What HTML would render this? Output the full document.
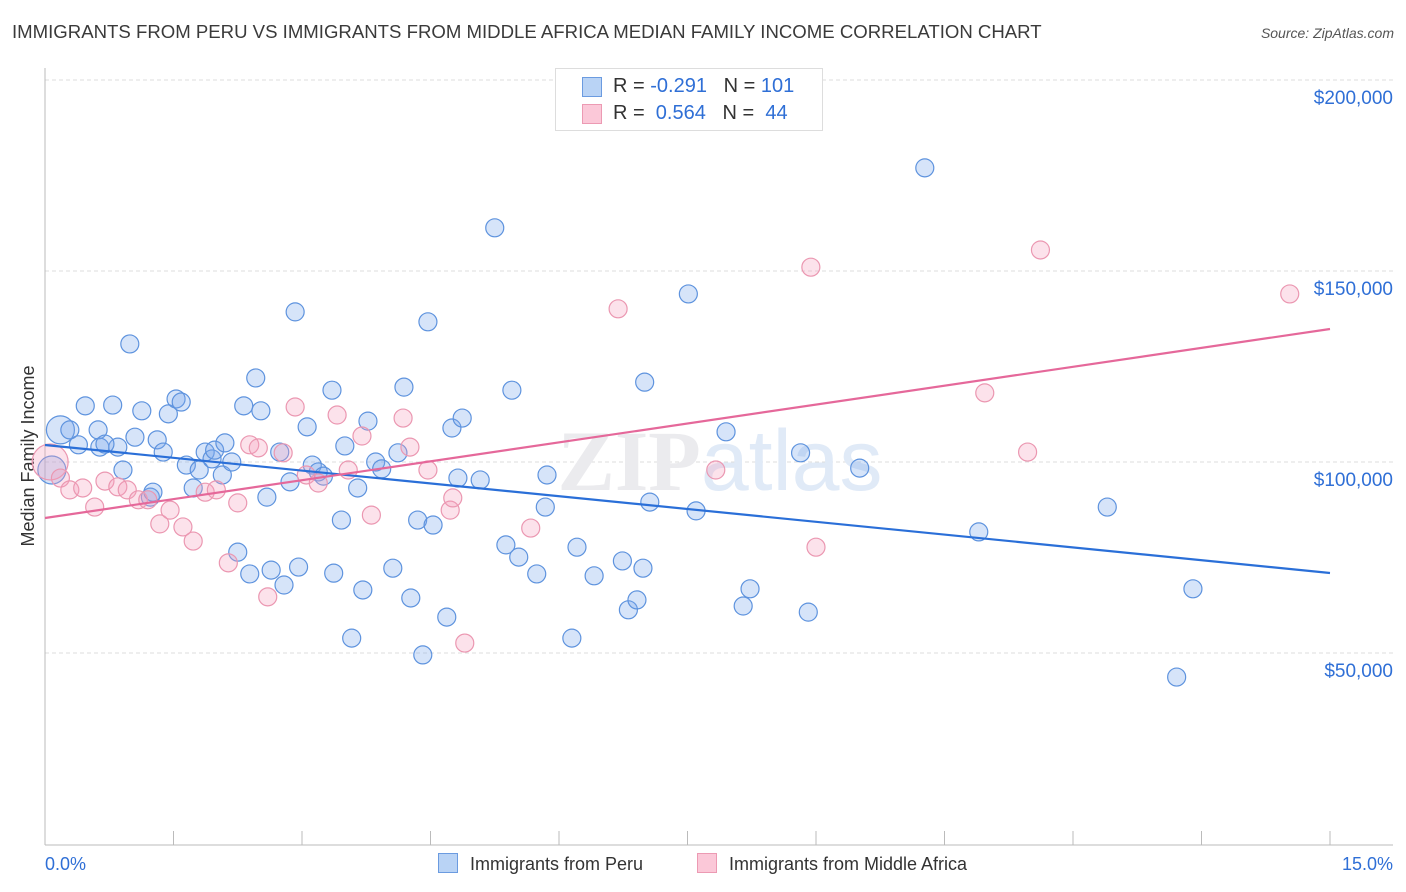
<!DOCTYPE html>
<html><head><meta charset="utf-8"><style>
body{margin:0;background:#fff;font-family:"Liberation Sans",sans-serif;}
#wrap{position:relative;width:1406px;height:892px;overflow:hidden;}
.t{position:absolute;white-space:nowrap;}
</style></head><body>
<div id="wrap">
<div class="t" style="left:12px;top:21px;font-size:18.6px;color:#3a3a3a;">IMMIGRANTS FROM PERU VS IMMIGRANTS FROM MIDDLE AFRICA MEDIAN FAMILY INCOME CORRELATION CHART</div>
<div class="t" style="right:12px;top:25px;font-size:14px;color:#555;font-style:italic;">Source: ZipAtlas.com</div>
<svg id="svg" width="1406" height="892" style="position:absolute;left:0;top:0"></svg>
<div style="position:absolute;left:555px;top:68px;width:266px;height:61px;border:1px solid #ddd;background:#fff;font-size:20px;">
 <div style="position:absolute;left:26px;top:8px;width:18px;height:18px;background:#b9d3f5;border:1px solid #6b9be0;"></div>
 <div class="t" style="left:57px;top:6px;color:#333;">R = <span style="color:#2f6fd6">-0.291</span>&nbsp;&nbsp;&nbsp;N = <span style="color:#2f6fd6">101</span></div>
 <div style="position:absolute;left:26px;top:35px;width:18px;height:18px;background:#fbc8d8;border:1px solid #ec9ab3;"></div>
 <div class="t" style="left:57px;top:33px;color:#333;">R = &nbsp;<span style="color:#2f6fd6">0.564</span>&nbsp;&nbsp;&nbsp;N = &nbsp;<span style="color:#2f6fd6">44</span></div>
</div>
<div class="t" style="left:438px;top:853px;font-size:18px;color:#333;"><span style="display:inline-block;width:18px;height:18px;background:#b9d3f5;border:1px solid #6b9be0;vertical-align:-3px;margin-right:12px"></span>Immigrants from Peru</div>
<div class="t" style="left:697px;top:853px;font-size:18px;color:#333;"><span style="display:inline-block;width:18px;height:18px;background:#fbc8d8;border:1px solid #ec9ab3;vertical-align:-3px;margin-right:12px"></span>Immigrants from Middle Africa</div>
</div>
<script>
const yTicks=[50000,100000,150000,200000];
const yTickLabels=["$50,000","$100,000","$150,000","$200,000"];
const xTickLabels=["0.0%","15.0%"];
const peruX=[0.18,0.29,0.39,0.62,0.47,0.79,0.85,0.64,0.70,0.99,0.91,1.05,1.13,1.31,1.38,1.44,1.53,1.59,1.65,1.73,1.80,1.87,1.95,1.98,2.07,2.10,2.18,1.23,1.26,2.25,2.32,2.39,2.46,2.52,2.59,2.64,2.74,2.79,2.86,2.92,2.96,3.06,3.12,3.19,3.25,3.37,3.35,3.46,3.50,3.58,3.65,3.71,3.77,3.86,3.93,4.06,4.12,4.19,4.27,4.35,4.41,4.47,4.53,4.69,4.75,4.82,4.87,5.08,5.25,5.38,5.45,5.53,5.74,5.84,5.86,6.15,6.21,6.41,6.74,6.81,6.91,6.98,7.00,7.06,7.51,7.60,7.95,8.15,8.23,8.82,8.91,9.51,10.27,10.90,12.40,13.21,13.40,0.08];
const peruY=[108.4,108.4,104.5,108.4,114.7,114.9,103.9,103.9,104.7,130.9,97.9,106.5,113.4,105.8,102.6,112.6,116.5,115.7,99.2,93.2,97.9,102.6,100.8,103.1,96.6,105.0,100.0,90.8,92.1,76.4,114.7,70.7,122.0,113.4,90.8,71.7,102.6,67.8,94.8,139.3,72.5,109.2,99.2,97.4,96.3,70.9,118.8,84.8,104.2,53.9,93.2,66.5,110.7,100.0,98.2,72.2,102.4,119.6,64.4,84.8,49.5,136.7,83.5,59.4,108.9,95.8,111.5,95.3,161.3,78.3,118.8,75.1,70.7,88.2,96.6,53.9,77.7,70.2,74.1,61.3,63.9,72.2,120.9,89.5,144.0,87.2,107.9,62.3,66.8,102.4,60.7,98.4,177.0,81.7,88.2,43.7,66.8,97.9];
const afrX=[0.06,0.18,0.29,0.44,0.58,0.70,0.85,0.96,1.09,1.20,1.34,1.46,1.61,1.73,1.87,2.00,2.14,2.25,2.39,2.49,2.60,2.78,2.92,3.05,3.19,3.41,3.54,3.70,3.81,4.18,4.26,4.47,4.73,4.76,4.90,5.67,6.69,7.83,8.94,9.00,10.97,11.47,11.62,14.53];
const afrY=[100.0,95.8,92.7,93.2,88.2,95.0,93.5,92.7,90.1,90.1,83.8,87.4,83.0,79.3,92.1,92.7,73.6,89.3,104.5,103.7,64.7,102.4,114.4,96.6,94.5,112.3,97.9,106.8,86.1,111.5,103.9,97.9,87.4,90.6,52.6,82.7,140.1,97.9,151.0,77.7,118.1,102.6,155.5,144.0];
const peruTrend=[104.45,70.94];
const afrTrend=[85.34,134.82];
const xs=v=>45+v/15*1285;
const ys=v=>462-(v-100)*191/50;
const svg=document.getElementById('svg');const NS='http://www.w3.org/2000/svg';
function mk(tag,a){const e=document.createElementNS(NS,tag);for(const k in a)e.setAttribute(k,a[k]);svg.appendChild(e);return e;}
yTicks.forEach((t,i)=>{const y=ys(t/1000);
const g=mk('line',{x1:45,x2:1393,y1:y,y2:y,stroke:'#ddd','stroke-dasharray':'4,3'});


const tx=mk('text',{x:1393,y:y+24,'text-anchor':'end','font-size':19,fill:'#2f6fd6','font-family':'Liberation Sans'});tx.textContent=yTickLabels[i];

});
const ax=mk('line',{x1:45,x2:45,y1:68,y2:845,stroke:'#bbb'});


const bx=mk('line',{x1:45,x2:1393,y1:845,y2:845,stroke:'#bbb'});


for(let i=0;i<=10;i++){const x=xs(i*1.5);const tk=mk('line',{x1:x,x2:x,y1:831,y2:845,stroke:'#bbb'});

}
[[0,'start',45],[1,'end',1393]].forEach(([i,an,x])=>{const t=mk('text',{x:x,y:870,'text-anchor':an,'font-size':18,fill:'#2f6fd6','font-family':'Liberation Sans'});t.textContent=xTickLabels[i];

});
const yt=mk('text',{x:34,y:456,'text-anchor':'middle','font-size':18,fill:'#333','font-family':'Liberation Sans',transform:'rotate(-90 34 456)'});yt.textContent='Median Family Income';


const wm=mk('text',{x:720,y:490,'text-anchor':'middle','font-size':86,fill:'#ebebee','font-family':'Liberation Serif','font-weight':'bold'});wm.innerHTML='ZIP<tspan fill="#e0eaf7" font-family="Liberation Sans" font-weight="normal">atlas</tspan>';


peruX.forEach((v,i)=>{const r=(i===0||i===peruX.length-1)?14:9;const c=mk('circle',{cx:xs(v),cy:ys(peruY[i]),r:r,fill:'rgba(120,165,235,0.3)',stroke:'#5e93de','stroke-width':1.2});

});
afrX.forEach((v,i)=>{const r=i===0?18:9;const c=mk('circle',{cx:xs(v),cy:ys(afrY[i]),r:r,fill:'rgba(245,160,190,0.3)',stroke:'#eb97b1','stroke-width':1.2});

});
const l1=mk('line',{x1:xs(0),x2:xs(15),y1:ys(peruTrend[0]),y2:ys(peruTrend[1]),stroke:'#2a6fd8','stroke-width':2.2});


const l2=mk('line',{x1:xs(0),x2:xs(15),y1:ys(afrTrend[0]),y2:ys(afrTrend[1]),stroke:'#e5689a','stroke-width':2.2});


</script>
</body></html>
